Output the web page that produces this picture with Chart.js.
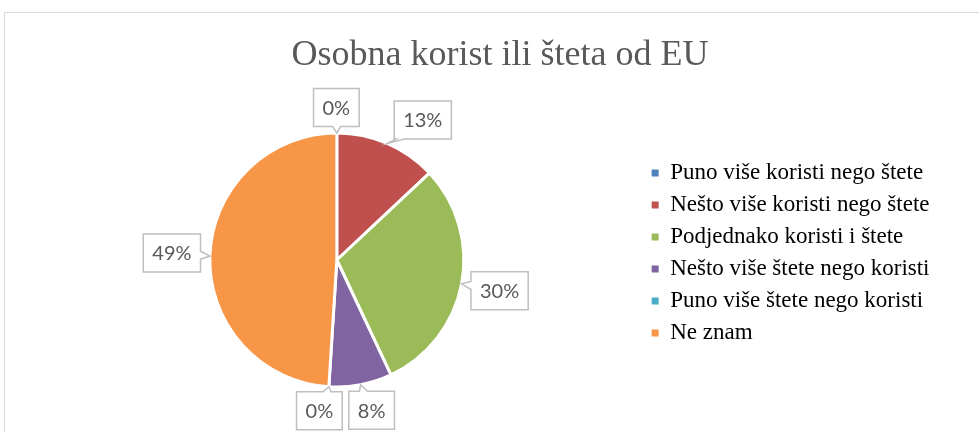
<!DOCTYPE html>
<html>
<head>
<meta charset="utf-8">
<script src="https://cdn.jsdelivr.net/npm/chart.js@4.4.0/dist/chart.umd.min.js"></script>
<style>
    html, body { margin: 0; padding: 0; background: #fff; width: 979px; height: 432px; overflow: hidden; }
    #frame { position: absolute; left: 4px; top: 12px; width: 990px; height: 440px; border: 1px solid #d9d9d9; }
    canvas { display: block; }
</style>
</head>
<body>
<div id="frame"><canvas id="pieChart" width="990" height="440" style="width:990px;height:440px"></canvas></div>
<script>
const chartTitle = 'Osobna korist ili šteta od EU';
const categories = [
    'Puno više koristi nego štete',
    'Nešto više koristi nego štete',
    'Podjednako koristi i štete',
    'Nešto više štete nego koristi',
    'Puno više štete nego koristi',
    'Ne znam'
];
const shares = [0, 13, 30, 8, 0, 49];
const sliceColors = ['#4f81bd', '#c0504d', '#9bbb59', '#8064a2', '#4bacc6', '#f79646'];

// label box offsets from the slice edge (Excel moved a few of them by hand)
const labelOffsets = [[-0.5, -25.5], [35.5, -23.5], [38, 7], [11, 25.5], [-9.5, 24], [-38, -3]];

// empty box right of the legend, keeps the title centred on the whole frame
// (display:false so the layout does not halve the legend's max width)
const spacerWidth = 29.5;
const legendSpacer = {
    id: 'legendSpacer',
    beforeInit(chart) {
        Chart.layouts.addBox(chart, {
            position: 'right',
            weight: 2000,
            fullSize: false,
            options: { display: false },
            width: 0,
            height: 0,
            isHorizontal() { return false; },
            update(maxWidth, maxHeight) {
                this.width = spacerWidth;
                this.height = maxHeight;
            },
            draw() {}
        });
    }
};

// draws the callout boxes with the percentages
const calloutLabels = {
    id: 'calloutLabels',
    afterDatasetsDraw(chart, args, opts) {
        const ctx = chart.ctx;
        const meta = chart.getDatasetMeta(0);
        const values = chart.data.datasets[0].data;
        ctx.save();
        ctx.font = opts.font;
        ctx.textAlign = 'center';
        ctx.textBaseline = 'middle';
        meta.data.forEach((arc, i) => {
            const p = arc.getProps(['x', 'y', 'startAngle', 'endAngle', 'outerRadius'], true);
            const mid = (p.startAngle + p.endAngle) / 2;
            const ax = p.x + Math.cos(mid) * p.outerRadius;
            const ay = p.y + Math.sin(mid) * p.outerRadius;
            const off = opts.offsets[i];
            const cx = ax + off[0];
            const cy = ay + off[1];
            const text = values[i] + '%';
            const w = ctx.measureText(text).width + opts.padX * 2;
            const h = opts.boxHeight;
            const l = cx - w / 2, r = cx + w / 2, t = cy - h / 2, b = cy + h / 2;
            const dx = ax - cx, dy = ay - cy;
            const half = opts.notch / 2;
            const clampX = v => Math.min(Math.max(v, l + half + 2), r - half - 2);
            const clampY = v => Math.min(Math.max(v, t + half + 2), b - half - 2);

            ctx.beginPath();
            ctx.moveTo(l, t);
            if (dy < -h / 2) {
                const px = clampX(cx + dx * (h / 2) / Math.abs(dy));
                ctx.lineTo(px - half, t); ctx.lineTo(ax, ay); ctx.lineTo(px + half, t);
            }
            ctx.lineTo(r, t);
            if (Math.abs(dy) <= h / 2 && dx > 0) {
                const py = clampY(cy + dy * (w / 2) / Math.abs(dx));
                ctx.lineTo(r, py - half); ctx.lineTo(ax, ay); ctx.lineTo(r, py + half);
            }
            ctx.lineTo(r, b);
            if (dy > h / 2) {
                const px = clampX(cx + dx * (h / 2) / Math.abs(dy));
                ctx.lineTo(px + half, b); ctx.lineTo(ax, ay); ctx.lineTo(px - half, b);
            }
            ctx.lineTo(l, b);
            if (Math.abs(dy) <= h / 2 && dx < 0) {
                const py = clampY(cy + dy * (w / 2) / Math.abs(dx));
                ctx.lineTo(l, py + half); ctx.lineTo(ax, ay); ctx.lineTo(l, py - half);
            }
            ctx.closePath();
            ctx.fillStyle = '#ffffff';
            ctx.fill();
            ctx.lineWidth = 1.5;
            ctx.strokeStyle = '#bfbfbf';
            ctx.stroke();

            ctx.fillStyle = opts.color;
            ctx.fillText(text, cx, cy + 1);
        });
        ctx.restore();
    }
};

const ctx = document.getElementById('pieChart');

new Chart(ctx.getContext('2d'), {
    type: 'pie',
    data: {
        labels: categories,
        datasets: [{
            data: shares,
            backgroundColor: sliceColors,
            borderColor: '#ffffff',
            borderWidth: 3,
            clip: false
        }]
    },
    options: {
        responsive: false,
        animation: false,
        events: [],
        radius: 127,
        layout: {
            padding: { left: 26, right: 26, top: 0, bottom: 85.5 }
        },
        plugins: {
            title: {
                display: true,
                text: chartTitle,
                color: '#595959',
                font: { family: 'Liberation Serif', size: 36, weight: 'normal' },
                padding: { top: 21, bottom: 75.3 }
            },
            legend: {
                display: true,
                position: 'right',
                align: 'start',
                fullSize: false,
                labels: {
                    color: '#595959',
                    font: { family: 'Liberation Serif', size: 23 },
                    boxWidth: 7,
                    boxHeight: 7,
                    padding: 9,
                    generateLabels(chart) {
                        return chart.data.labels.map((label, i) => ({
                            text: label,
                            fillStyle: sliceColors[i],
                            strokeStyle: sliceColors[i],
                            lineWidth: 0,
                            hidden: false,
                            index: i
                        }));
                    }
                }
            },
            tooltip: { enabled: false },
            calloutLabels: {
                offsets: labelOffsets,
                font: '20px Lato',
                color: '#595959',
                padX: 9,
                boxHeight: 38,
                notch: 8
            }
        }
    },
    plugins: [calloutLabels, legendSpacer]
});
</script>
</body>
</html>
